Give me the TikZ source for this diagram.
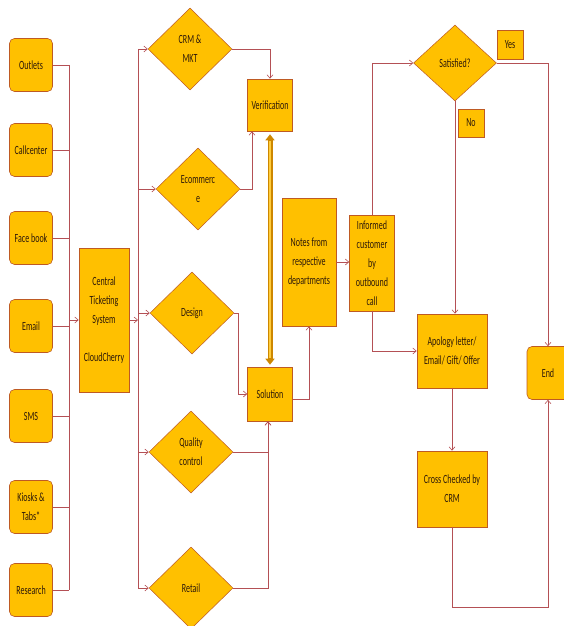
\documentclass[tikz,border=0pt]{standalone}
\usepackage{fontspec}
\setmainfont{Carlito}[FakeStretch=0.64]
\usepackage{tikz}
\usetikzlibrary{shapes.geometric, arrows.meta, positioning, calc}
\definecolor{boxgold}{RGB}{255,192,0}
\definecolor{boxedge}{RGB}{190,90,35}
\definecolor{linkred}{RGB}{180,80,85}
\definecolor{barorange}{RGB}{205,135,0}
\definecolor{barlight}{RGB}{255,205,60}
\definecolor{inkbrown}{RGB}{45,25,10}

\begin{document}
\begin{tikzpicture}[x=1pt, y=-1pt, font=\fontsize{12.5}{19}\selectfont, text=inkbrown,
  box/.style={draw=boxedge, fill=boxgold, align=center, inner sep=2pt, line width=0.6pt},
  src/.style={box, rounded corners=5pt, minimum width=43pt, minimum height=53pt},
  choice/.style={diamond, draw=boxedge, fill=boxgold, align=center, inner sep=0pt,
    minimum width=84pt, minimum height=82pt, line width=0.5pt},
  link/.style={draw=linkred, line width=0.6pt},
  arrow/.style={link, -{Straight Barb[length=3.5pt, width=6pt]}}]
  \useasboundingbox (0,0) rectangle (563,626);
  % channels: name, label, y
  \foreach \name/\lbl/\yy in {
    outlets/Outlets/65,
    callcenter/Callcenter/150,
    facebook/Face book/238,
    email/Email/326,
    sms/SMS/416,
    kiosks/{Kiosks \&\\Tabs*}/507,
    research/Research/590
  }{
    \node[src] (\name) at (31,\yy) {\lbl};
  }
  \coordinate (bus) at (69,0);
  \foreach \name in {outlets,callcenter,facebook,email,sms,kiosks,research}
    \draw[link] (\name.east) -- (\name.east -| bus);
  \draw[link] (outlets.east -| bus) -- (research.east -| bus);

  % ticketing system
  \node[box, minimum width=50pt, minimum height=144pt] (cts) at (104,320)
    {Central\\Ticketing\\System\\[19pt]CloudCherry};
  \draw[arrow] (cts.west -| bus) -- (cts.west);
  \coordinate (hub) at (138,0);
  \draw[arrow] (cts.east) -- (cts.east -| hub);

  % departments: name, label, x, y
  \foreach \name/\lbl/\xx/\yy in {
    crm/{CRM \&\\MKT}/190/49,
    ecom/{Ecommerc\\e}/198/189,
    design/Design/192/313,
    quality/{Quality\\control}/191/452,
    retail/Retail/191/588
  }{
    \node[choice] (\name) at (\xx,\yy) {\lbl};
  }
  \draw[link] (crm.west -| hub) -- (retail.west -| hub);
  \foreach \name in {crm,ecom,design,quality,retail}
    \draw[arrow] (\name.west -| hub) -- (\name.west);

  % verification / solution
  \node[box, minimum width=45pt, minimum height=52pt] (verif) at (270,105) {Verification};
  \node[box, minimum width=45pt, minimum height=54pt] (sol) at (270,394) {Solution};
  \draw[arrow] (crm.east) -| (verif.north);
  \draw[arrow] (ecom.east) -| ([xshift=-18pt]verif.south);
  \draw[arrow] (design.east) -- ++(4,0) |- (sol.west);
  \draw[arrow] (quality.east) -| ([xshift=-2pt]sol.south);
  \draw[arrow] (retail.east) -| ([xshift=-2pt]sol.south);
  \draw[barorange, line width=5pt, {Triangle[length=6pt,width=9pt]}-{Triangle[length=6pt,width=9pt]},
    shorten <=3pt, shorten >=2pt] (verif.south) -- (sol.north);
  \draw[barlight, line width=2.6pt, shorten <=10pt, shorten >=9pt] (verif.south) -- (sol.north);

  \node[box, minimum width=54pt, minimum height=128pt] (notes) at (309,262)
    {Notes from\\respective\\departments};
  \draw[arrow] ([yshift=-5pt]sol.east) -| (notes.south);
  \node[box, minimum width=45pt, minimum height=96pt] (informed) at (372,263)
    {Informed\\customer\\by\\outbound\\call};
  \draw[arrow] (notes.east) -- (notes.east -| informed.west);

  % feedback
  \node[choice, minimum width=83pt, minimum height=76pt] (satisfied) at (455,63) {Satisfied?};
  \node[box, minimum width=26pt, minimum height=29pt] (yes) at (510,45) {Yes};
  \node[box, minimum width=26pt, minimum height=28pt] (no) at (471,123) {No};
  \node[box, minimum width=70pt, minimum height=74pt] (apology) at (452,351)
    {Apology letter/\\Email/ Gift/ Offer};
  \node[box, minimum width=70pt, minimum height=76pt] (cross) at (452,489)
    {Cross Checked by\\CRM};
  \node[src, minimum width=42pt] (finish) at (548,373) {End};
  \draw[arrow] (informed.north) |- (satisfied.west);
  \draw[arrow] (informed.south) |- (apology.west);
  \draw[arrow] (satisfied.east) -| (finish.north);
  \draw[arrow] (satisfied.south) -- (satisfied.south |- apology.north);
  \draw[arrow] (apology.south) -- (cross.north);
  \draw[arrow] (cross.south) -- ++(0,80) -| (finish.south);
\end{tikzpicture}
\end{document}
